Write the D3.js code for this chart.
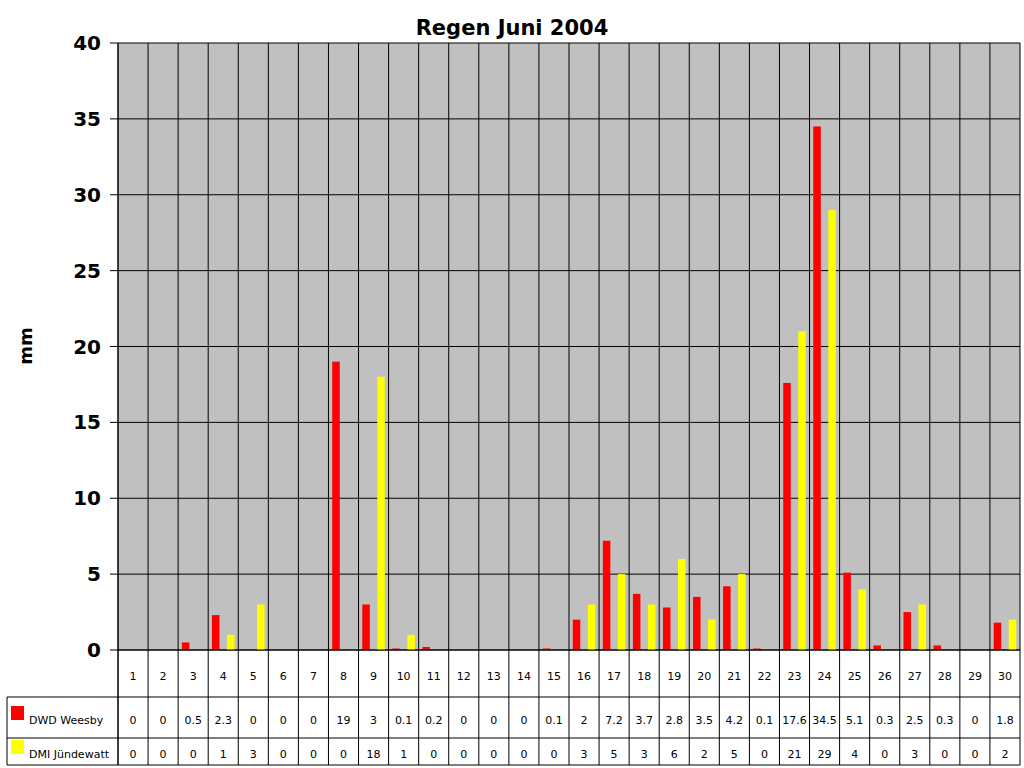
<!DOCTYPE html>
<html><head><meta charset="utf-8">
<script src="https://cdn.jsdelivr.net/npm/d3@7"></script>
<style>body{margin:0;background:#fff}text{font-family:"DejaVu Sans",sans-serif}</style>
</head><body><svg id="c" width="1024" height="768"></svg>
<script>
var days = d3.range(1, 31).map(String);
var dwd = [0,0,0.5,2.3,0,0,0,19,3,0.1,0.2,0,0,0,0.1,2,7.2,3.7,2.8,3.5,4.2,0.1,17.6,34.5,5.1,0.3,2.5,0.3,0,1.8];
var dmi = [0,0,0,1,3,0,0,0,18,1,0,0,0,0,0,3,5,3,6,2,5,0,21,29,4,0,3,0,0,2];
var yTicks = [0,5,10,15,20,25,30,35,40];
var seriesNames = ["DWD Weesby", "DMI Jündewatt"];
var colors = ["#ff0000", "#ffff00"];

var svg = d3.select("#c");
var L = 118, R = 1020, T = 43, B = 650;
var x = d3.scaleBand().domain(days).range([L, R]);
var y = d3.scaleLinear().domain([0, 40]).range([B, T]);
var sub = d3.scaleBand().domain([0, 1]).range([0, x.bandwidth()]).paddingInner(0.5).paddingOuter(0.25);

svg.append("rect").attr("x", L).attr("y", T).attr("width", R - L).attr("height", B - T).attr("fill", "#c0c0c0");
svg.selectAll(".gy").data(yTicks).enter().append("line")
  .attr("x1", L).attr("x2", R).attr("y1", d => y(d)).attr("y2", d => y(d)).attr("stroke", "#000");
svg.selectAll(".gx").data(days).enter().append("line")
  .attr("x1", d => x(d)).attr("x2", d => x(d)).attr("y1", T).attr("y2", 765).attr("stroke", "#000");
svg.append("line").attr("x1", R).attr("x2", R).attr("y1", T).attr("y2", 765).attr("stroke", "#000");

[dwd, dmi].forEach(function(vals, s) {
  svg.selectAll(".b" + s).data(vals).enter().append("rect")
    .attr("x", (d, i) => x(days[i]) + sub(s)).attr("width", sub.bandwidth())
    .attr("y", d => y(d)).attr("height", d => B - y(d)).attr("fill", colors[s]);
});

svg.selectAll(".yl").data(yTicks).enter().append("text")
  .attr("x", 101).attr("y", d => y(d) + 7).attr("text-anchor", "end")
  .attr("font-size", 20).attr("font-weight", "bold").text(d => d);
svg.selectAll(".yt").data(yTicks).enter().append("line")
  .attr("x1", 110).attr("x2", L).attr("y1", d => y(d)).attr("y2", d => y(d)).attr("stroke", "#000");
svg.append("line").attr("x1", L).attr("x2", L).attr("y1", T).attr("y2", 765).attr("stroke", "#000");

svg.append("text").attr("x", 512).attr("y", 35).attr("text-anchor", "middle")
  .attr("font-size", 21).attr("font-weight", "bold").text("Regen Juni 2004");
svg.append("text").attr("transform", "translate(32,346) rotate(-90)").attr("text-anchor", "middle")
  .attr("font-size", 18).attr("font-weight", "bold").text("mm");

// table
var rows = [650, 697, 738, 765];
rows.forEach(function(r, i) {
  svg.append("line").attr("x1", i === 0 ? L : 7).attr("x2", R).attr("y1", r).attr("y2", r).attr("stroke", "#000");
});
svg.append("line").attr("x1", 7).attr("x2", 7).attr("y1", 697).attr("y2", 765).attr("stroke", "#000");
svg.selectAll(".dl").data(days).enter().append("text")
  .attr("x", d => x(d) + x.bandwidth() / 2).attr("y", 680).attr("text-anchor", "middle")
  .attr("font-size", 11).text(d => d);
[dwd, dmi].forEach(function(vals, s) {
  var ry = s === 0 ? 724 : 758;
  svg.selectAll(".v" + s).data(vals).enter().append("text")
    .attr("x", (d, i) => x(days[i]) + x.bandwidth() / 2).attr("y", ry).attr("text-anchor", "middle")
    .attr("font-size", 11).text(d => d);
  svg.append("rect").attr("x", 11).attr("y", ry - 18).attr("width", 13).attr("height", 14).attr("fill", colors[s]);
  svg.append("text").attr("x", 29).attr("y", ry).attr("font-size", 11).text(seriesNames[s]);
});
</script></body></html>
